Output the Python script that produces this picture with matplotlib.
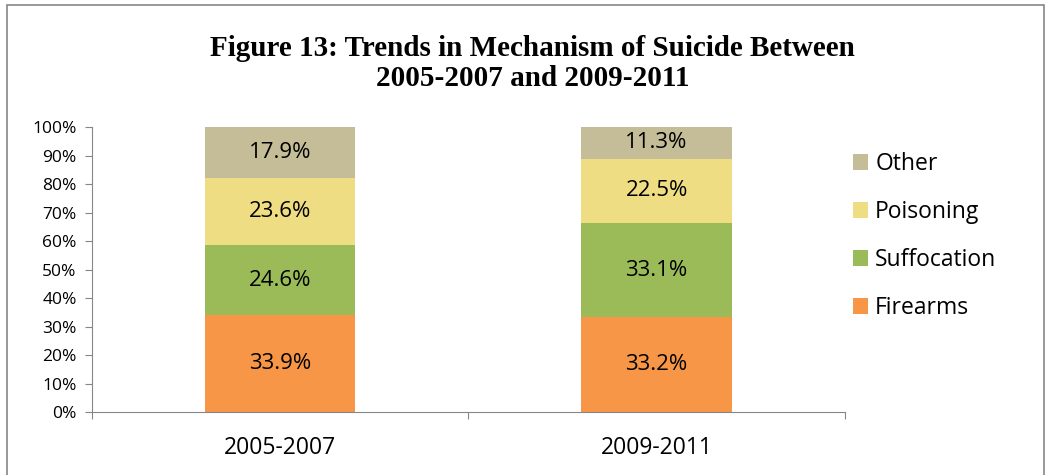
import matplotlib.pyplot as plt
from matplotlib.patches import Rectangle

periods = ['2005-2007', '2009-2011']
mechanisms = ['Firearms', 'Suffocation', 'Poisoning', 'Other']
firearms = [33.9, 33.2]
suffocation = [24.6, 33.1]
poisoning = [23.6, 22.5]
other = [17.9, 11.3]
colors = ['#F79646', '#9BBB59', '#EEDD82', '#C4BD97']

plt.rcParams['font.family'] = ['Open Sans', 'DejaVu Sans']

fig = plt.figure(figsize=(10.5, 4.75), dpi=100)
ax = fig.add_axes([0.0876, 0.1326, 0.717, 0.6])

x = range(len(periods))
bottom = [0, 0]
for name, vals, col in zip(mechanisms, [firearms, suffocation, poisoning, other], colors):
    bars = ax.bar(x, vals, width=0.4, bottom=bottom, color=col, label=name)
    for b, v, btm in zip(bars, vals, bottom):
        ax.text(b.get_x() + b.get_width() / 2, btm + v / 2, f'{v:.1f}%',
                ha='center', va='center', fontsize=16)
    bottom = [a + v for a, v in zip(bottom, vals)]

ax.set_xlim(-0.5, 1.5)
ax.set_ylim(0, 100)
ax.set_yticks(range(0, 101, 10))
ax.set_yticklabels([f'{t}%' for t in range(0, 101, 10)], fontsize=12.5)
ax.set_xticks([-0.5, 0.5, 1.5], minor=False)
ax.set_xticklabels([])
ax.set_xticks(list(x), minor=True)
ax.set_xticklabels(periods, minor=True, fontsize=16.5)
ax.tick_params(axis='x', which='minor', length=0, pad=17)
ax.tick_params(axis='x', which='major', direction='out', length=5, color='#868686')
ax.tick_params(axis='y', direction='out', length=5, color='#868686', pad=6)
for s in ['top', 'right']:
    ax.spines[s].set_visible(False)
for s in ['left', 'bottom']:
    ax.spines[s].set_color('#868686')

handles, labels = ax.get_legend_handles_labels()
ax.legend(handles[::-1], labels[::-1], loc='upper left', bbox_to_anchor=(0.984, 0.985),
          frameon=False, fontsize=16.5, handlelength=0.65, handleheight=0.65,
          handletextpad=0.3, labelspacing=1.05)

fig.text(0.507, 0.866, 'Figure 13: Trends in Mechanism of Suicide Between\n2005-2007 and 2009-2011',
         ha='center', va='center', family='Liberation Serif', fontweight='bold',
         fontsize=21, linespacing=1.15)

fig.patches.append(Rectangle((0.0067, -0.1), 0.988, 1.09, transform=fig.transFigure,
                             fill=False, edgecolor='#868686', lw=1.2))

fig.savefig('out.png', dpi=100)
